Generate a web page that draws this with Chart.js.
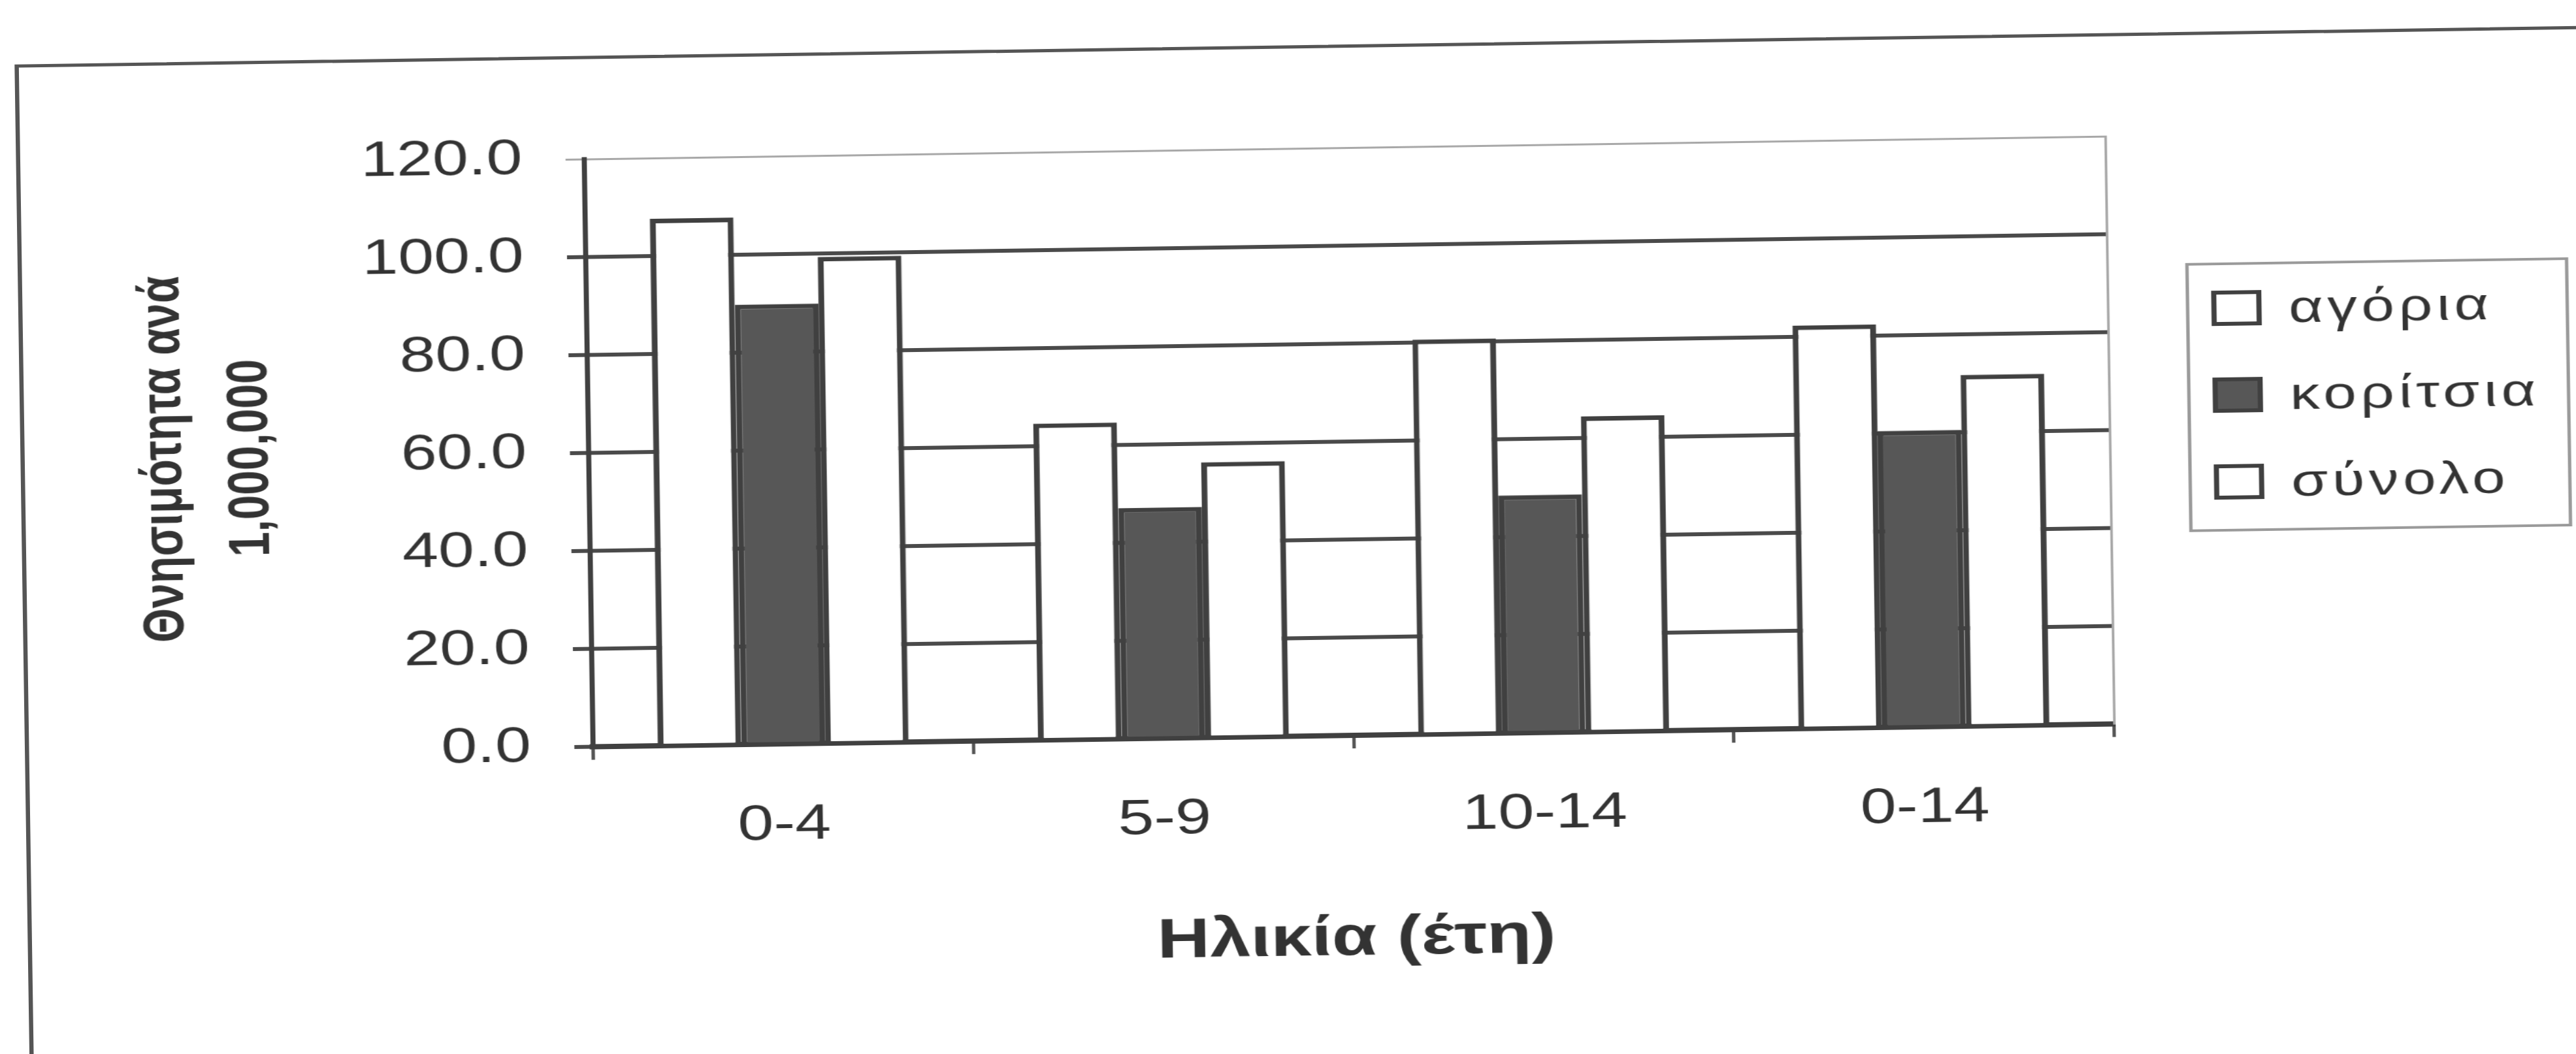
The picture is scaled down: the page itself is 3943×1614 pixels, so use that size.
<!DOCTYPE html>
<html><head><meta charset="utf-8">
<script src="https://cdn.jsdelivr.net/npm/chart.js@4.4.1/dist/chart.umd.min.js"></script>
<style>
html,body{margin:0;padding:0;background:#fff;overflow:hidden;width:3943px;height:1614px;}
#wrap{position:absolute;left:0;top:0;width:3033px;height:1614px;transform-origin:0 0;transform:rotate(-0.86deg) scaleX(1.3);}
#frame{position:absolute;left:16px;top:99px;width:4000px;height:3000px;border:5px solid #555;}
#box{position:absolute;left:0;top:0;width:3033px;height:1614px;}
</style></head><body>
<div id="wrap"><div id="frame"></div><div id="box"><canvas id="c"></canvas></div></div>
<script>
const categories = ['0-4', '5-9', '10-14', '0-14'];
const seriesNames = ['αγόρια', 'κορίτσια', 'σύνολο'];
const boys = [107.6, 64.6, 80.6, 82.3];
const girls = [89.8, 47.1, 48.5, 60.5];
const total = [99.3, 56.2, 64.4, 71.7];
const yTickLabels = ['0.0', '20.0', '40.0', '60.0', '80.0', '100.0', '120.0'];
const xAxisTitle = 'Ηλικία (έτη)';
const yAxisTitle = ['Θνησιμότητα ανά', '1,000,000'];

const FONT = '"Liberation Sans", Arial, sans-serif';
const INK = '#404040';

const boxLegend = {
  id: 'boxLegend',
  afterDraw(chart, args, o) {
    const ctx = chart.ctx;
    ctx.save();
    ctx.strokeStyle = o.frameColor;
    ctx.lineWidth = o.frameWidth;
    ctx.strokeRect(o.x, o.y, o.w, o.h);
    ctx.font = o.font;
    ctx.textBaseline = 'middle';
    ctx.textAlign = 'left';
    if ('letterSpacing' in ctx) ctx.letterSpacing = o.letterSpacing;
    chart.data.datasets.forEach((ds, i) => {
      const cy = o.firstY + i * o.step;
      ctx.fillStyle = ds.backgroundColor;
      ctx.fillRect(o.markerX, cy - o.markerH / 2, o.markerW, o.markerH);
      ctx.lineWidth = o.markerBorder;
      ctx.strokeStyle = ds.borderColor;
      ctx.strokeRect(o.markerX, cy - o.markerH / 2, o.markerW, o.markerH);
      ctx.fillStyle = o.color;
      ctx.fillText(ds.label, o.textX, cy + 4);
    });
    ctx.restore();
  }
};

new Chart(document.getElementById('c'), {
  type: 'bar',
  data: {
    labels: categories,
    datasets: [
      { label: seriesNames[0], data: boys, backgroundColor: '#ffffff', borderColor: INK, borderWidth: 7 },
      { label: seriesNames[1], data: girls, backgroundColor: '#575757', borderColor: INK, borderWidth: 7 },
      { label: seriesNames[2], data: total, backgroundColor: '#ffffff', borderColor: INK, borderWidth: 7 }
    ]
  },
  options: {
    responsive: true,
    maintainAspectRatio: false,
    animation: false,
    devicePixelRatio: 1,
    categoryPercentage: 0.66,
    barPercentage: 1.0,
    layout: { padding: { left: 35, top: 257, right: 557, bottom: 93 } },
    plugins: {
      legend: { display: false },
      tooltip: { enabled: false },
      boxLegend: {
        x: 2570, y: 455, w: 447, h: 408,
        firstY: 523, step: 133,
        markerX: 2601, markerW: 53, markerH: 48, markerBorder: 6,
        textX: 2689, font: '70px ' + FONT, letterSpacing: '5px',
        color: '#333', frameColor: '#9a9a9a', frameWidth: 4
      }
    },
    scales: {
      x: {
        offset: true,
        grid: { display: true, drawOnChartArea: false, drawTicks: true, tickLength: 20, offset: true, color: '#555', lineWidth: 4 },
        border: { display: true, color: INK, width: 8 },
        ticks: { padding: 59, color: '#333', font: { family: FONT, size: 76 } },
        title: { display: true, text: xAxisTitle, color: '#333', font: { family: FONT, size: 86, weight: 'bold' }, padding: { top: 90, bottom: 0 } },
        afterFit(s) { s.height = 364; }
      },
      y: {
        min: 0, max: 120,
        ticks: {
          stepSize: 20, padding: 51, color: '#333', font: { family: FONT, size: 76 },
          callback: (v) => yTickLabels[Math.round(v / 20)]
        },
        grid: {
          drawTicks: true, tickLength: 22,
          color: (c) => (c.tick && c.tick.value === 120 ? '#a8a8a8' : '#4a4a4a'),
          lineWidth: (c) => (c.tick && c.tick.value === 120 ? 3 : 6)
        },
        border: { display: true, color: INK, width: 6 },
        title: { display: true, text: yAxisTitle, color: '#333', font: { family: FONT, size: 68, weight: 'bold', lineHeight: 1.5 }, padding: { top: 100, bottom: 0 } },
        afterFit(s) { s.width = 650; }
      },
      y2: {
        position: 'right', min: 0, max: 120,
        ticks: { display: false },
        grid: { display: false, drawTicks: false },
        border: { display: true, color: '#a8a8a8', width: 3 },
        afterFit(s) { s.width = 0; }
      }
    }
  },
  plugins: [boxLegend]
});
</script>
</body></html>
